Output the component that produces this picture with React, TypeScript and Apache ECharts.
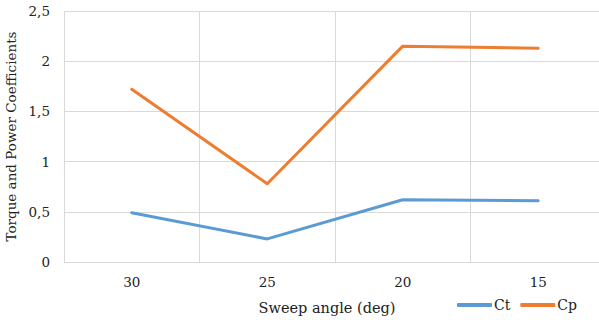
import React, { useEffect, useRef } from "react";
import * as echarts from "echarts";

const categories = ["30", "25", "20", "15"];
const ctValues = [0.49, 0.23, 0.62, 0.61];
const cpValues = [1.72, 0.78, 2.15, 2.13];

export default function App() {
  const ref = useRef<HTMLDivElement>(null);
  useEffect(() => {
    if (!ref.current) return;
    const chart = echarts.init(ref.current, null, { renderer: "svg" });
    const font = "DejaVu Serif";
    chart.setOption({
      animation: false,
      textStyle: { fontFamily: font },
      grid: { left: 64, top: 11, width: 542, height: 251, containLabel: false, outerBoundsMode: "none" },
      legend: {
        right: 17,
        top: 293,
        itemWidth: 35,
        itemHeight: 4,
        itemGap: 10,
        icon: "roundRect",
        textStyle: { fontFamily: font, fontSize: 14, color: "#222", padding: [0, 0, 0, -3] },
        data: ["Ct", "Cp"],
      },
      xAxis: {
        type: "category",
        data: categories,
        boundaryGap: true,
        name: "Sweep angle (deg)",
        nameLocation: "middle",
        nameGap: 38,
        nameTextStyle: { fontFamily: font, fontSize: 14.5, color: "#222", padding: [0, 16, 0, 0] },
        axisLine: { show: true, lineStyle: { color: "#d9d9d9", width: 1 } },
        axisTick: { show: false },
        axisLabel: { fontFamily: font, fontSize: 13.5, color: "#222", margin: 13 },
        splitLine: { show: true, lineStyle: { color: "#d9d9d9", width: 1 } },
      },
      yAxis: {
        type: "value",
        min: 0,
        max: 2.5,
        interval: 0.5,
        name: "Torque and Power Coefficients",
        nameLocation: "middle",
        nameGap: 38,
        nameTextStyle: { fontFamily: font, fontSize: 13.5, color: "#222" },
        axisLine: { show: false },
        axisTick: { show: false },
        axisLabel: {
          fontFamily: font,
          fontSize: 13.5,
          color: "#222",
          margin: 14,
          formatter: (v: number) => String(v).replace(".", ","),
        },
        splitLine: { show: true, lineStyle: { color: "#d9d9d9", width: 1 } },
      },
      series: [
        {
          name: "Ct",
          type: "line",
          data: ctValues,
          symbol: "none",
          lineStyle: { color: "#5B9BD5", width: 3, cap: "round", join: "round" },
          itemStyle: { color: "#5B9BD5" },
        },
        {
          name: "Cp",
          type: "line",
          data: cpValues,
          symbol: "none",
          lineStyle: { color: "#ED7D31", width: 3, cap: "round", join: "round" },
          itemStyle: { color: "#ED7D31" },
        },
      ],
    });
    return () => chart.dispose();
  }, []);
  return (
    <div
      ref={ref}
      style={{ position: "fixed", left: 0, top: 0, width: 599, height: 320, background: "#fff" }}
    />
  );
}
